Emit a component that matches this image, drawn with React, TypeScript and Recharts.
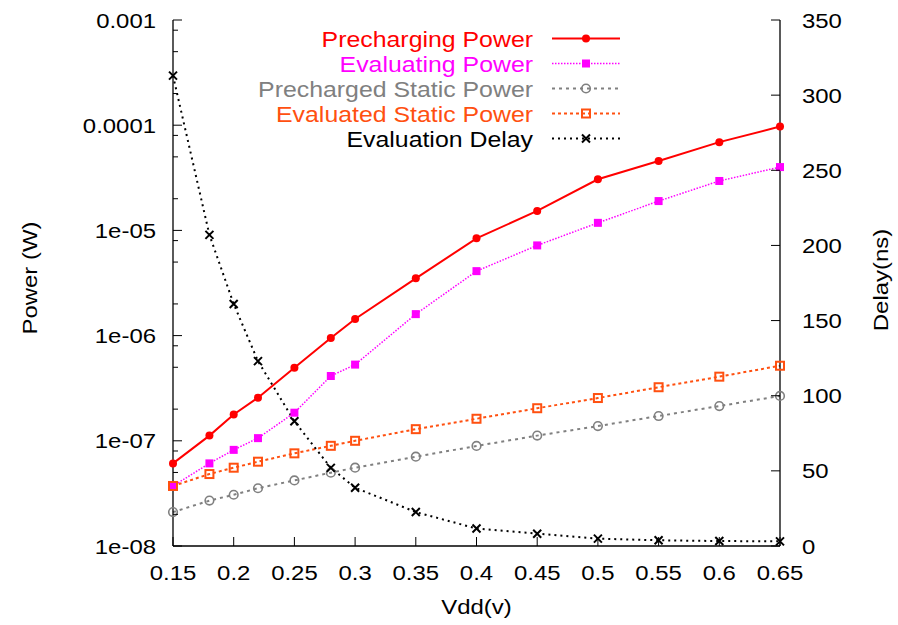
import React from "react";
import { Label, Legend, Line, LineChart, XAxis, YAxis } from "recharts";

// Vdd sweep (V)
const vdd = [0.15, 0.18, 0.2, 0.22, 0.25, 0.28, 0.3, 0.35, 0.4, 0.45, 0.5, 0.55, 0.6, 0.65];

// power series (W), left log axis
const prechargingPower = [6.1e-8, 1.12e-7, 1.78e-7, 2.57e-7, 4.95e-7, 9.5e-7, 1.44e-6, 3.5e-6, 8.4e-6, 1.53e-5, 3.06e-5, 4.57e-5, 6.9e-5, 9.7e-5];
const evaluatingPower = [3.72e-8, 6.1e-8, 8.2e-8, 1.06e-7, 1.85e-7, 4.13e-7, 5.3e-7, 1.6e-6, 4.1e-6, 7.2e-6, 1.18e-5, 1.9e-5, 2.95e-5, 4.0e-5];
const prechargedStaticPower = [2.1e-8, 2.7e-8, 3.07e-8, 3.54e-8, 4.2e-8, 4.98e-8, 5.55e-8, 7.06e-8, 8.93e-8, 1.12e-7, 1.38e-7, 1.72e-7, 2.14e-7, 2.67e-7];
const evaluatedStaticPower = [3.72e-8, 4.83e-8, 5.55e-8, 6.33e-8, 7.6e-8, 8.96e-8, 1.0e-7, 1.29e-7, 1.62e-7, 2.04e-7, 2.55e-7, 3.23e-7, 4.07e-7, 5.17e-7];

// delay (ns), right axis
const evaluationDelay = [313, 207, 161, 123, 83, 52, 38.8, 22.6, 11.6, 8.2, 4.9, 3.8, 3.3, 3.1];

const xTicks = [0.15, 0.2, 0.25, 0.3, 0.35, 0.4, 0.45, 0.5, 0.55, 0.6, 0.65];
const xTickLabels = ["0.15", "0.2", "0.25", "0.3", "0.35", "0.4", "0.45", "0.5", "0.55", "0.6", "0.65"];
const powerMajorTicks = [1e-8, 1e-7, 1e-6, 1e-5, 1e-4, 1e-3];
const powerTickLabels = ["1e-08", "1e-07", "1e-06", "1e-05", "0.0001", "0.001"];
const powerMinorSteps = [2, 5, 8];
const delayTicks = [0, 50, 100, 150, 200, 250, 300, 350];

const FONT = '"Liberation Sans", Arial, Helvetica, sans-serif';
const STRETCH = 1.14;

const powerMinorTicks = powerMajorTicks.slice(0, -1).flatMap((d) => powerMinorSteps.map((s) => d * s));
const powerTicks = [...powerMajorTicks, ...powerMinorTicks];

const rows = vdd.map((v, i) => ({
  vdd: v,
  pre: prechargingPower[i],
  evl: evaluatingPower[i],
  preStatic: prechargedStaticPower[i],
  evlStatic: evaluatedStaticPower[i],
  delay: evaluationDelay[i],
}));

type MarkerKind = "dot" | "square" | "ring" | "box" | "cross";

const series: {
  key: string;
  name: string;
  color: string;
  dash?: string;
  width: number;
  marker: MarkerKind;
  axis: string;
}[] = [
  { key: "pre", name: "Precharging Power", color: "#ff0000", width: 2, marker: "dot", axis: "power" },
  { key: "evl", name: "Evaluating Power", color: "#ff00ff", dash: "1.5 1.5", width: 1.5, marker: "square", axis: "power" },
  { key: "preStatic", name: "Precharged Static Power", color: "#808080", dash: "3 4", width: 2, marker: "ring", axis: "power" },
  { key: "evlStatic", name: "Evaluated Static Power", color: "#ff5010", dash: "3 3", width: 2, marker: "box", axis: "power" },
  { key: "delay", name: "Evaluation Delay", color: "#000000", dash: "2 4", width: 2, marker: "cross", axis: "delay" },
];

function Marker({ kind, cx, cy, color }: { kind: MarkerKind; cx: number; cy: number; color: string }) {
  if (cx == null || cy == null) return null;
  switch (kind) {
    case "dot":
      return <circle cx={cx} cy={cy} r={4} fill={color} />;
    case "square":
      return <rect x={cx - 4} y={cy - 4} width={8} height={8} fill={color} />;
    case "ring":
      return <circle cx={cx} cy={cy} r={4.3} fill="none" stroke={color} strokeWidth={1.6} />;
    case "box":
      return <rect x={cx - 4} y={cy - 4} width={8} height={8} fill="none" stroke={color} strokeWidth={2} />;
    default:
      return (
        <path
          d={`M${cx - 4},${cy - 4}L${cx + 4},${cy + 4}M${cx + 4},${cy - 4}L${cx - 4},${cy + 4}`}
          stroke={color}
          strokeWidth={2}
        />
      );
  }
}

function StretchText({
  x,
  y,
  anchor,
  color = "#000",
  rotate = 0,
  size = 21,
  stretch = STRETCH,
  children,
}: {
  x: number;
  y: number;
  anchor: "start" | "middle" | "end";
  color?: string;
  rotate?: number;
  size?: number;
  stretch?: number;
  children: React.ReactNode;
}) {
  return (
    <text
      transform={`translate(${x},${y}) rotate(${rotate}) scale(${stretch},1)`}
      textAnchor={anchor}
      fill={color}
      fontSize={size}
      fontFamily={FONT}
    >
      {children}
    </text>
  );
}

// match a tick value against a list, tolerant of float noise
const findTick = (list: number[], v: number) =>
  list.findIndex((t) => Math.abs(t - v) <= Math.abs(t) * 1e-6);

function BottomTick({ x, y, payload }: any) {
  const i = findTick(xTicks, payload.value);
  return (
    <g>
      <line x1={x} x2={x} y1={y} y2={y - 9} stroke="#000" strokeWidth={1} />
      <StretchText x={x} y={y + 34} anchor="middle">
        {xTickLabels[i]}
      </StretchText>
    </g>
  );
}

function TopTick({ x, y }: any) {
  return <line x1={x} x2={x} y1={y} y2={y + 9} stroke="#000" strokeWidth={1} />;
}

function PowerTick({ x, y, payload }: any) {
  const i = findTick(powerMajorTicks, payload.value);
  const major = i >= 0;
  return (
    <g>
      <line x1={x} x2={x + (major ? 9 : 5)} y1={y} y2={y} stroke="#000" strokeWidth={1} />
      {major && (
        <StretchText x={x - 17} y={y + 7.5} anchor="end">
          {powerTickLabels[i]}
        </StretchText>
      )}
    </g>
  );
}

function DelayTick({ x, y, payload }: any) {
  return (
    <g>
      <line x1={x} x2={x - 9} y1={y} y2={y} stroke="#000" strokeWidth={1} />
      <StretchText x={x + 22} y={y + 7.5} anchor="start">
        {payload.value}
      </StretchText>
    </g>
  );
}

function KeyBox() {
  return (
    <svg width={898} height={160} style={{ display: "block" }}>
      {series.map((s, i) => {
        const y = 38.5 + i * 25;
        return (
          <g key={s.key}>
            <StretchText x={533} y={y + 8} anchor="end" color={s.color} size={22} stretch={1.13}>
              {s.name}
            </StretchText>
            <line
              x1={552}
              x2={620}
              y1={y}
              y2={y}
              stroke={s.color}
              strokeWidth={s.width}
              strokeDasharray={s.dash}
            />
            <Marker kind={s.marker} cx={586} cy={y} color={s.color} />
          </g>
        );
      })}
    </svg>
  );
}

export default function App() {
  const axisLine = { stroke: "#000", strokeWidth: 1.3 };
  return (
    <div style={{ position: "absolute", left: 0, top: 0, background: "#fff" }}>
      <LineChart width={898} height={625} data={rows} margin={{ top: 20, right: 0, bottom: 0, left: 0 }}>
        <XAxis
          dataKey="vdd"
          type="number"
          domain={[0.15, 0.65]}
          ticks={xTicks}
          interval={0}
          height={79}
          tickSize={0}
          tickMargin={0}
          tick={<BottomTick />}
          axisLine={axisLine}
        >
          <Label
            content={({ viewBox }: any) => (
              <StretchText x={viewBox.x + viewBox.width / 2} y={viewBox.y + 68} anchor="middle">
                Vdd(v)
              </StretchText>
            )}
          />
        </XAxis>
        <XAxis
          xAxisId="top"
          dataKey="vdd"
          type="number"
          orientation="top"
          domain={[0.15, 0.65]}
          ticks={xTicks}
          interval={0}
          height={0}
          tickSize={0}
          tickMargin={0}
          tick={<TopTick />}
          axisLine={axisLine}
        />
        <YAxis
          yAxisId="power"
          scale="log"
          domain={[1e-8, 1e-3]}
          allowDataOverflow
          ticks={powerTicks}
          interval={0}
          width={173}
          tickSize={0}
          tickMargin={0}
          tick={<PowerTick />}
          axisLine={axisLine}
        >
          <Label
            content={({ viewBox }: any) => (
              <StretchText x={viewBox.x + 37} y={viewBox.y + viewBox.height / 2 - 5} anchor="middle" rotate={-90}>
                Power (W)
              </StretchText>
            )}
          />
        </YAxis>
        <YAxis
          yAxisId="delay"
          orientation="right"
          domain={[0, 350]}
          ticks={delayTicks}
          interval={0}
          width={118}
          tickSize={0}
          tickMargin={0}
          tick={<DelayTick />}
          axisLine={axisLine}
        >
          <Label
            content={({ viewBox }: any) => (
              <StretchText x={viewBox.x + 108} y={viewBox.y + viewBox.height / 2 - 3} anchor="middle" rotate={-90}>
                Delay(ns)
              </StretchText>
            )}
          />
        </YAxis>
        <Legend
          layout="vertical"
          align="center"
          verticalAlign="middle"
          wrapperStyle={{ left: 0, top: 0, width: 898, height: 160 }}
          content={() => <KeyBox />}
        />
        {series.map((s) => (
          <Line
            key={s.key}
            yAxisId={s.axis}
            dataKey={s.key}
            name={s.name}
            type="linear"
            stroke={s.color}
            strokeWidth={s.width}
            strokeDasharray={s.dash}
            isAnimationActive={false}
            activeDot={false}
            dot={(p: any) => <Marker key={`${s.key}-${p.index}`} kind={s.marker} cx={p.cx} cy={p.cy} color={s.color} />}
          />
        ))}
      </LineChart>
    </div>
  );
}
